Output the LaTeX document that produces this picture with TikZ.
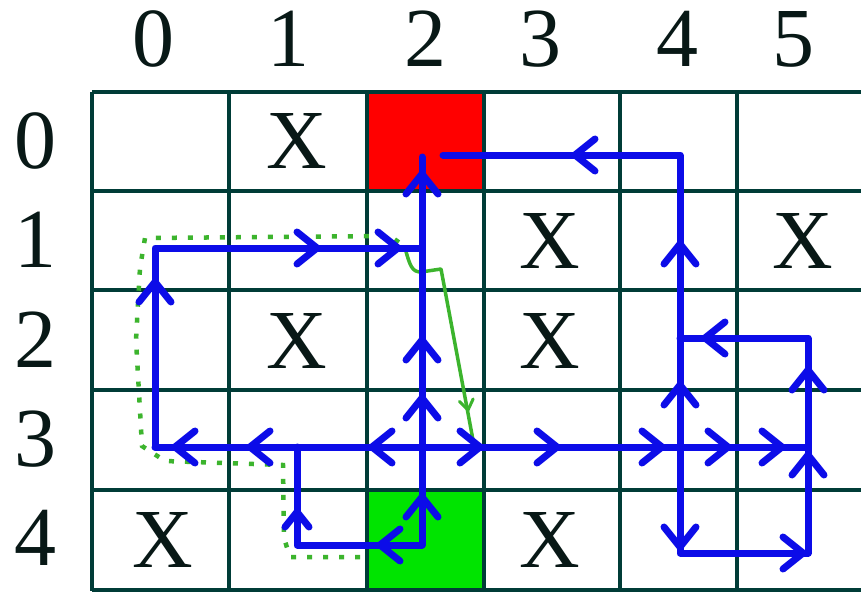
\documentclass[tikz,border=0pt]{standalone}
\usepackage{fontspec}
\setmainfont{Liberation Serif}
\definecolor{gridc}{RGB}{0,60,55}
\definecolor{goalred}{RGB}{255,0,0}
\definecolor{startgreen}{RGB}{0,228,0}
\definecolor{routeblue}{RGB}{12,12,232}
\definecolor{tracegreen}{RGB}{60,180,45}
\definecolor{inkc}{RGB}{8,24,22}
\begin{document}
\begin{tikzpicture}[x=1pt,y=-1pt,
  gridline/.style={draw=gridc, line width=3.2pt},
  route/.style={draw=routeblue, line width=7pt, line join=round, line cap=round},
  trace/.style={draw=tracegreen, line width=3.5pt, line join=round, line cap=round},
  dots/.style={draw=tracegreen, line width=4.5pt, dash pattern=on 5pt off 11pt},
  lbl/.style={font=\fontsize{84}{84}\selectfont, inner sep=0pt, anchor=base, text=inkc},
  chev/.pic={\draw[route, line width=7pt] (-20,-16) -- (0,0) -- (-20,16);},
  smallchev/.pic={\draw[trace, line width=3pt] (-10,-7) -- (0,0) -- (-10,7);}
]
\useasboundingbox (0,0) rectangle (861,591);
\fill[white] (0,0) rectangle (861,591);

% coloured cells: goal and start
\fill[goalred] (367,92) rectangle (484,191);
\fill[startgreen] (367,490) rectangle (484,591);

% grid
\foreach \gx in {92,229,367,484,620,737}
  \draw[gridline] (\gx,92) -- (\gx,591);
\foreach \gy in {92,191,290,390,490,590}
  \draw[gridline] (92,\gy) -- (861,\gy);

% column and row indices
\foreach \cx/\t in {153/0,288/1,425/2,540/3,677/4,793/5}
  \node[lbl] (col\t) at (\cx,67) {\t};
\foreach \ry/\t in {168/0,267/1,367/2,466/3,565/4}
  \node[lbl] (row\t) at (35,\ry) {\t};

% blocked cells
\node[lbl] (x01) at (297,168) {X};
\node[lbl] (x13) at (550,268) {X};
\node[lbl] (x15) at (803,268) {X};
\node[lbl] (x21) at (297,368) {X};
\node[lbl] (x23) at (550,368) {X};
\node[lbl] (x40) at (163,567) {X};
\node[lbl] (x43) at (550,567) {X};

% corner points of the routes
\coordinate (A) at (422,545);
\coordinate (B) at (422,157);
\coordinate (C) at (155,447);
\coordinate (D) at (808,447);
\coordinate (E) at (155,248);
\coordinate (F) at (422,248);
\coordinate (G) at (443,155);
\coordinate (H) at (680,155);
\coordinate (I) at (680,553);
\coordinate (J) at (808,553);
\coordinate (K) at (808,338);
\coordinate (L) at (680,338);
\coordinate (M) at (297,545);
\coordinate (N) at (297,447);

% green trace
\draw[dots] (360,557) -- (290,557) -- (284,538) -- (283,465) -- (165,461)
  -- (142,446) -- (136,340) -- (140,268) -- (145,238) -- (390,236) -- (404,246);
\coordinate (T0) at (405,248);
\coordinate (T1) at (441,269);
\coordinate (T2) at (473,440);
\draw[trace] (T0) .. controls (410,266) and (412,272) .. (421,272) -- (T1) -- (T2);
\pic[rotate=-80] at (468,410) {smallchev};

% blue routes
\draw[route] (A) -- (B);
\draw[route] (C) -- (D);
\draw[route] (C) -- (E) -- (F);
\draw[route] (G) -- (H) -- (I) -- (J) -- (K) -- (L);
\draw[route] (A) -- (M) -- (N);

% direction marks
\foreach \p in {(422,174),(422,340),(422,398),(422,497),(155,282),(680,244),(680,385),(808,370),(808,455)}
  \pic[rotate=90] at \p {chev};
\pic[rotate=90,scale=0.75] at (297,512) {chev};
\foreach \p in {(175,447),(250,447),(372,447),(575,155),(705,338),(380,545)}
  \pic[rotate=180] at \p {chev};
\foreach \p in {(480,447),(557,447),(662,447),(728,447),(782,447),(317,248),(398,248),(803,553)}
  \pic at \p {chev};
\pic[rotate=-90] at (680,547) {chev};
\end{tikzpicture}
\end{document}
